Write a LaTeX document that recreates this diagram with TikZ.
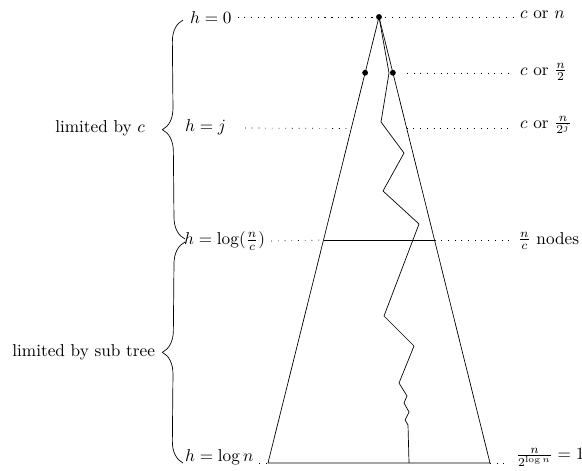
\documentclass[tikz,border=0pt]{standalone}
\usepackage{amsmath,amssymb}
\usetikzlibrary{calc,decorations.pathreplacing}

\begin{document}
\begin{tikzpicture}[
    x=0.5814pt, y=-0.5814pt,
    dot/.style={circle, fill, inner sep=0pt, minimum size=3.4pt},
    lvl/.style={anchor=west},
    res/.style={anchor=west},
    dots/.style={dash pattern=on 0.5pt off 3.4pt},
    brc/.style={decorate, decoration={brace, amplitude=12.6pt}},
]
\useasboundingbox (0,0) rectangle (582,470);

% --- Tree ---
\node[dot] (root) at (379,17) {};
\coordinate (bl) at (268,463);
\coordinate (br) at (490,463);
\draw (root.center) -- (bl) -- (br) -- cycle;
\node[dot] (dl) at ($(root)!0.125!(bl)$) {};
\node[dot] (dr) at ($(root)!0.125!(br)$) {};
\coordinate (lsj) at ($(root)!0.25!(bl)$);
\coordinate (rsj) at ($(root)!0.25!(br)$);
\coordinate (lsc) at ($(root)!0.5!(bl)$);
\coordinate (rsc) at ($(root)!0.5!(br)$);
\draw (lsc) -- (rsc);

% path down the tree
\draw (root.center) -- (389,73) -- (381,122) -- (404,153) -- (383,191)
    -- (419,224) -- (384,316) -- (414,346) -- (399,383) -- (407,396)
    -- (404,403) -- (409,412) -- (405,420) -- (408,425) -- (409,463);

% --- Levels (left) ---
\node[lvl] (h0) at (184,18) {$h=0$};
\node[lvl] (hj) at (179,127) {$h=j$};
\node[lvl] (hc) at (178,241) {$h=\log(\frac{n}{c})$};
\node[lvl] (hn) at (179,457) {$h=\log n$};

% --- Sizes (right) ---
\node[res] (lab0) at (514,15) {$c$ or $n$};
\node[res] (lab1) at (514,72) {$c$ or $\frac{n}{2}$};
\node[res] (labj) at (514,125) {$c$ or $\frac{n}{2^j}$};
\node[res] (labc) at (512,241) {$\frac{n}{c}$ nodes};
\node[res] (labn) at (510,457) {$\frac{n}{2^{\log n}}=1$};

% --- Dotted rows ---
\coordinate (m0) at (321,17);
\coordinate (s1) at (407,73);
\coordinate (sj) at (245,128);
\draw[dots] (h0.east |- root) -- (lab0.west |- root);
\draw[dots] (root.center) -- (m0);
\draw[dots] (s1) -- (s1 -| lab1.west);
\draw[dots] (sj) -- (lsj);
\draw[dots] (rsj) -- (rsj -| labj.west);
\draw[dots] (hc.east) -- (lsc);
\draw[dots] (rsc) -- (rsc -| labc.west);
\draw[dots] (hn.east |- bl) -- (bl);
\draw[dots] (br) -- (br -| labn.west);

% --- Braces ---
\coordinate (b0) at (183,20);
\coordinate (b1) at (185,239);
\coordinate (b2) at (185,242);
\coordinate (b3) at (183,463);
\draw[brc] (b1) -- (b0);
\draw[brc] (b3) -- (b2);
\node[anchor=east] (limc) at (151,128) {limited by $c$};
\node[anchor=east] (limt) at (161,352) {limited by sub tree};
\end{tikzpicture}
\end{document}
